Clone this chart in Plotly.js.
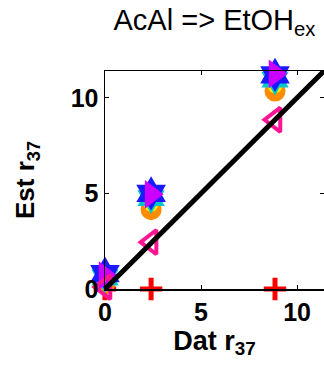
<!DOCTYPE html>
<html>
<head>
<meta charset="utf-8">
<script src="https://cdn.plot.ly/plotly-3.0.1.min.js"></script>
<style>
  html, body { margin: 0; padding: 0; background: #fff; }
  #chart { width: 324px; height: 372px; }
</style>
</head>
<body>
<div id="chart"></div>
<script>
// Measured r37 values (x) against model estimates (y) for each variant
const datR37 = [0, 2.4, 8.85];

const estPlus = [0, 0, 0];
const estCircleOrange = [0.3, 4.15, 10.35];
const estCircleYellow = [0.5, 4.4, 10.6];
const estStarCyan = [0.6, 4.75, 10.95];
const estStarBlue = [0.8, 5.0, 11.2];
const estTriRight = [0.7, 4.95, 11.25];
const estTriLeft = [0.1, 2.45, 8.85];

// Identity line y = x
const axisMax = 11.4;
const identity = [0, axisMax];

const fontFam = 'Liberation Sans, Arial, Helvetica, sans-serif';

function markerTrace(y, marker) {
  return {
    x: datR37, y: y, type: 'scatter', mode: 'markers',
    cliponaxis: false, hoverinfo: 'skip', marker: marker
  };
}

const traces = [
  markerTrace(estPlus, { symbol: 'cross-thin-open', size: 16, color: '#ff0000', line: { color: '#ff0000', width: 5 } }),
  markerTrace(estCircleOrange, { symbol: 'circle', size: 21, color: '#ff8c00', line: { width: 0 } }),
  markerTrace(estCircleYellow, { symbol: 'circle', size: 14, color: '#f2f200', line: { width: 0 } }),
  markerTrace(estStarCyan, { symbol: 'hexagram', size: 24, color: '#00c8c8', line: { width: 0 } }),
  markerTrace(estStarBlue, { symbol: 'hexagram', size: 26, color: '#1a1aff', line: { width: 0 } }),
  markerTrace(estTriRight, { symbol: 'triangle-right', size: 25, color: '#cc00ff', line: { width: 0 } }),
  markerTrace(estTriLeft, { symbol: 'triangle-left-open', size: 21, color: '#ff1493', line: { color: '#ff1493', width: 4 } }),
  {
    x: identity, y: identity, type: 'scatter', mode: 'lines',
    hoverinfo: 'skip', line: { color: '#000', width: 5 }
  }
];

const axisCommon = {
  range: [0, axisMax],
  tickvals: [0, 5, 10],
  ticktext: ['<b>0</b>', '<b>5</b>', '<b>10</b>'],
  ticks: 'inside',
  ticklen: 4,
  tickwidth: 1,
  tickcolor: '#000',
  showline: true,
  linecolor: '#000',
  linewidth: 1.5,
  mirror: 'ticks',
  showgrid: false,
  zeroline: false,
  tickfont: { family: fontFam, size: 25, color: '#000' }
};

const layout = {
  width: 324,
  height: 372,
  margin: { l: 105, r: 0, t: 71, b: 83 },
  paper_bgcolor: '#fff',
  plot_bgcolor: '#fff',
  showlegend: false,
  title: {
    text: 'AcAl => EtOH<sub>ex</sub>',
    font: { family: fontFam, size: 29, color: '#000' },
    x: 0.5, xref: 'paper', xanchor: 'center',
    y: 0.975, yref: 'container', yanchor: 'top'
  },
  xaxis: Object.assign({}, axisCommon, {
    title: { text: '<b>Dat r<sub>37</sub></b>', font: { family: fontFam, size: 27, color: '#000' }, standoff: 6 }
  }),
  yaxis: Object.assign({}, axisCommon, {
    title: { text: '<b>Est r<sub>37</sub></b>', font: { family: fontFam, size: 26, color: '#000' }, standoff: 28 }
  })
};

Plotly.newPlot('chart', traces, layout, { staticPlot: true, displayModeBar: false });
</script>
</body>
</html>
